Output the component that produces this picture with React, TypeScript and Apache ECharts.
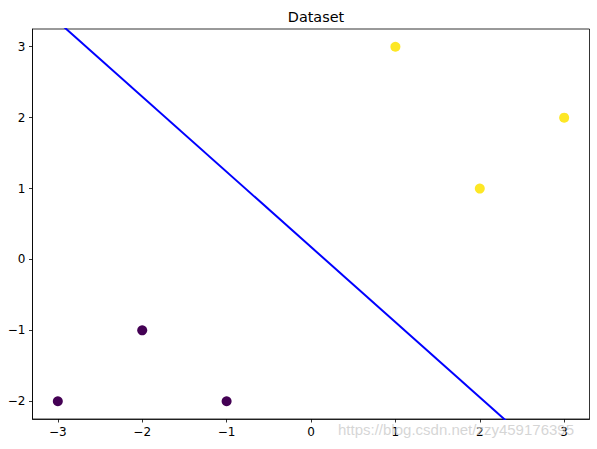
import React, { useEffect, useRef } from "react";
import * as echarts from "echarts";

const xTicks = [-3, -2, -1, 0, 1, 2, 3];
const yTicks = [-2, -1, 0, 1, 2, 3];
const class0Points = [[-3, -2], [-2, -1], [-1, -2]];
const class1Points = [[1, 3], [2, 1], [3, 2]];
const boundaryLine = [[-3.5, 3.886], [3.5, -3.534]];
const titleText = "Dataset";
const watermark = "https://blog.csdn.net/zzy459176395";

const fmt = (v: number) => String(v).replace("-", "\u2212");

export default function App() {
  const ref = useRef<HTMLDivElement>(null);
  useEffect(() => {
    document.body.style.margin = "0";
    const chart = echarts.init(ref.current!, null, { renderer: "svg" });
    const font = "DejaVu Sans";
    chart.setOption({
      animation: false,
      backgroundColor: "#fff",
      title: {
        text: titleText,
        left: 311,
        textAlign: "center",
        top: 5,
        textStyle: { fontFamily: font, fontSize: 14.4, fontWeight: "normal", color: "#000" },
      },
      grid: {
        left: 32.5,
        top: 29,
        width: 557,
        height: 390,
        show: true,
        borderColor: "#000",
        borderWidth: 0.8,
        backgroundColor: "transparent",
      },
      xAxis: {
        type: "value",
        min: -3.3,
        max: 3.3,
        splitLine: { show: false },
        axisLine: { show: true, onZero: false, lineStyle: { color: "#000", width: 0.8 } },
        axisTick: { show: true, length: 3.5, lineStyle: { color: "#000", width: 0.8 }, customValues: xTicks },
        axisLabel: { customValues: xTicks, formatter: fmt, fontFamily: font, fontSize: 12, color: "#000", margin: 7 },
      },
      yAxis: {
        type: "value",
        min: -2.25,
        max: 3.25,
        splitLine: { show: false },
        axisLine: { show: true, onZero: false, lineStyle: { color: "#000", width: 0.8 } },
        axisTick: { show: true, length: 3.5, lineStyle: { color: "#000", width: 0.8 }, customValues: yTicks },
        axisLabel: { customValues: yTicks, formatter: fmt, fontFamily: font, fontSize: 12, color: "#000", margin: 7 },
      },
      series: [
        {
          type: "line",
          data: boundaryLine,
          symbol: "none",
          clip: true,
          lineStyle: { color: "#0000ff", width: 2 },
          z: 2,
        },
        {
          type: "scatter",
          data: class0Points,
          symbolSize: 10,
          itemStyle: { color: "#440154", opacity: 1 },
          z: 3,
        },
        {
          type: "scatter",
          data: class1Points,
          symbolSize: 10,
          itemStyle: { color: "#fde725", opacity: 1 },
          z: 3,
        },
      ],
      graphic: [
        {
          type: "text",
          left: 338,
          top: 422,
          z: 100,
          style: {
            text: watermark,
            fill: "rgba(200,200,200,0.75)",
            font: "15px 'Liberation Sans', Arial, sans-serif",
          },
        },
      ],
    });
    return () => chart.dispose();
  }, []);
  return <div ref={ref} style={{ width: 597, height: 449 }} />;
}
